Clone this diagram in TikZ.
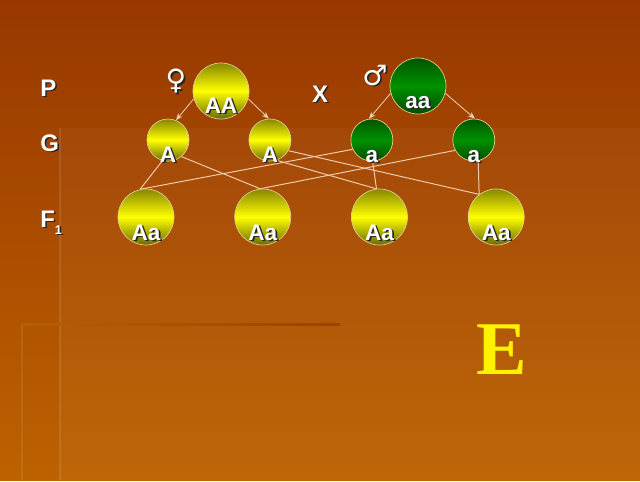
\documentclass[tikz,border=0pt]{standalone}
\usepackage{fontspec}
\setmainfont{Liberation Sans}
\newfontfamily\symfont{DejaVu Sans}
\newfontfamily\letterfont{Liberation Serif}
\usepackage{tikz}
\usetikzlibrary{arrows.meta,positioning,backgrounds}

\definecolor{bgtop}{RGB}{152,56,0}
\definecolor{bgbot}{RGB}{188,98,0}
\definecolor{ytop}{RGB}{135,135,0}
\definecolor{ybot}{RGB}{105,105,0}
\definecolor{gtop}{RGB}{0,85,0}
\definecolor{gmid}{RGB}{0,145,0}
\definecolor{gbot}{RGB}{0,75,0}
\definecolor{rimcol}{RGB}{225,205,140}
\definecolor{wirecol}{RGB}{240,205,170}
\definecolor{ruledark}{RGB}{150,68,0}

% white text with a dark drop shadow
\newcommand{\shad}[1]{\leavevmode\rlap{\kern1.2pt\raisebox{-1.2pt}{\color{black!85}#1}}#1}

\begin{document}
\begin{tikzpicture}[
  x=0.025cm, y=-0.025cm,
  arr/.style={-{Stealth[length=5pt,width=4pt]}, wirecol, line width=0.6pt},
  wire/.style={wirecol, line width=0.7pt},
  ball/.style={circle, draw=rimcol, line width=0.5pt, inner sep=0pt},
  big/.style={ball, minimum size=1.4cm},
  small/.style={ball, minimum size=1.05cm},
  yel/.style={top color=ytop, bottom color=ybot, middle color=yellow},
  grn/.style={top color=gtop, bottom color=gbot, middle color=gmid},
  gene/.style={text=white, font=\fontsize{16}{18}\selectfont\bfseries, anchor=base, inner sep=0pt},
  row/.style={text=white, font=\fontsize{17}{20}\selectfont\bfseries, anchor=base west, inner sep=0pt},
  sex/.style={text=white, font=\symfont\fontsize{20}{22}\selectfont, inner sep=0pt},
  node distance=1.48cm
]

% ===== BACKGROUND =====
\begin{scope}[on background layer]
  \fill[top color=bgtop, bottom color=bgbot] (0,0) rectangle (640,480);
  \fill[white, opacity=0.03] (60,128) rectangle (640,480);
  \draw[white, opacity=0.10, line width=1.5pt] (60,128) -- (60,480);
  \draw[white, opacity=0.08, line width=1.5pt] (22,324) -- (22,480);
  \shade[left color=bgbot!90!bgtop, right color=ruledark] (22,323) rectangle (340,325.5);
\end{scope}

% ===== P =====
\node[row] (lab_P) at (40,96) {\shad{P}};
\node[big, yel] (p_AA) at (221,91) {};
\node[big, grn] (p_aa) at (418,86) {};
\node[gene] (p_AA_txt) at ([yshift=-0.55cm]p_AA.center) {\shad{AA}};
\node[gene] (p_aa_txt) at ([yshift=-0.55cm]p_aa.center) {\shad{aa}};
\node[sex] (p_fem) at (176,82) {\shad{♀}};
\node[sex] (p_mal) at (375,76) {\shad{♂}};
\node[row, anchor=base] (lab_X) at (320,102) {\shad{X}};

% ===== G =====
\node[row] (lab_G) at (40,151) {\shad{G}};
\node[small, yel] (g_A1) at (168,140) {};
\node[small, yel, right=of g_A1] (g_A2) {};
\node[small, grn, right=of g_A2] (g_a1) {};
\node[small, grn, right=of g_a1] (g_a2) {};
\foreach \n/\t in {g_A1/A, g_A2/A, g_a1/a, g_a2/a}
  \node[gene] (\n_txt) at ([yshift=-0.55cm]\n.center) {\shad{\t}};

\draw[arr] (p_AA.196) -- (g_A1.68);
\draw[arr] (p_AA.344) -- (g_A2.93);
\draw[arr] (p_aa.195) -- (g_a1.98);
\draw[arr] (p_aa.345) -- (g_a2.87);

% ===== F1 =====
\node[row] (lab_F) at (40,227) {\shad{F\raisebox{-5pt}{\fontsize{9}{10}\selectfont 1}}};
\node[big, yel] (f_1) at (146,217) {};
\node[big, yel, right=1.5cm of f_1] (f_2) {};
\node[big, yel, right=1.5cm of f_2] (f_3) {};
\node[big, yel, right=1.5cm of f_3] (f_4) {};
\foreach \n in {f_1, f_2, f_3, f_4}
  \node[gene] (\n_txt) at ([yshift=-0.575cm]\n.center) {\shad{Aa}};

\begin{scope}[on background layer]
  \draw[wire] (g_A1.255) -- (f_1.102);
  \draw[wire] (g_A1.309) -- (f_2.95);
  \draw[wire] (g_A2.288) -- (f_3.96);
  \draw[wire] (g_A2.330) -- (f_4.127);
  \draw[wire] (g_a1.206) -- (f_1.102);
  \draw[wire] (g_a1.272) -- (f_3.96);
  \draw[wire] (g_a2.209) -- (f_2.95);
  \draw[wire] (g_a2.282) -- (f_4.127);
\end{scope}

% ===== VARIANT =====
\node[text=yellow, font=\letterfont\fontsize{54}{56}\selectfont\bfseries, inner sep=0pt] (var_E) at (502,350) {E};

\end{tikzpicture}
\end{document}
